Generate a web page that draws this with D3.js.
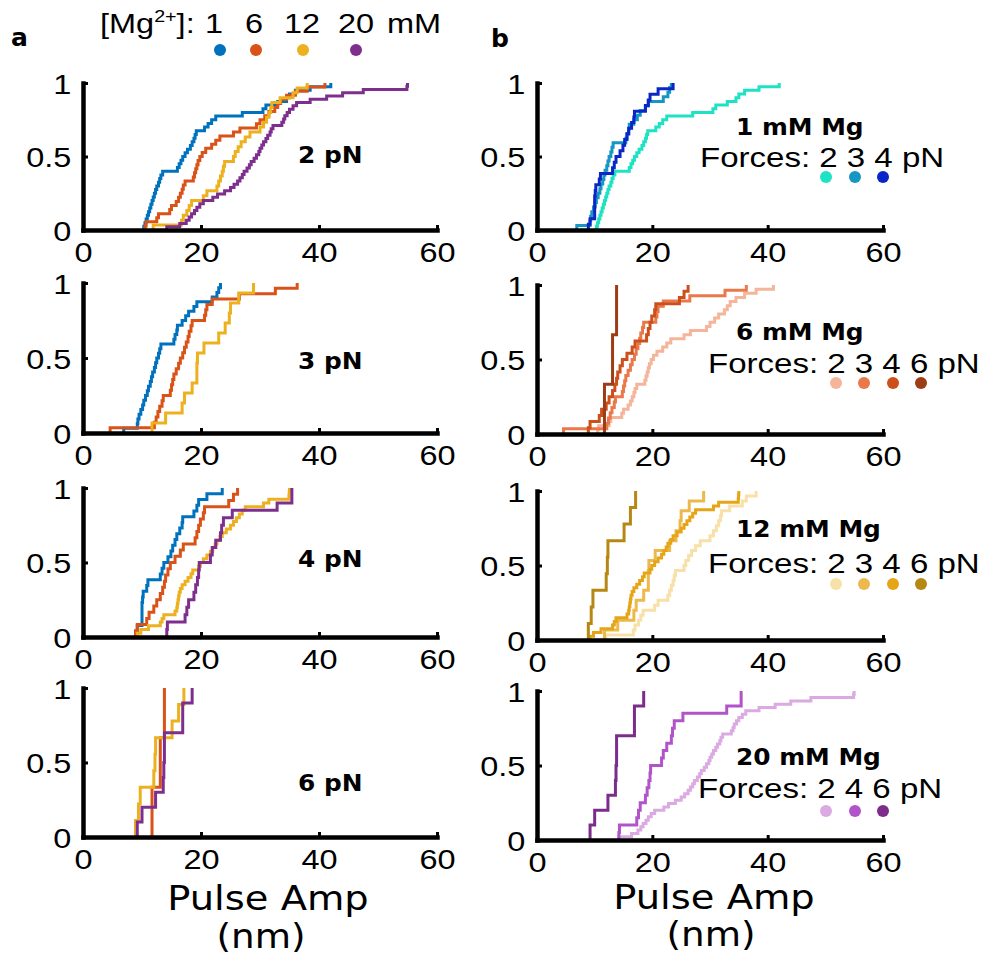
<!DOCTYPE html>
<html>
<head>
<meta charset="utf-8">
<script src="https://cdn.jsdelivr.net/npm/d3@7"></script>
<style>
  body { margin: 0; background: #fff; }
  svg { display: block; }
</style>
</head>
<body>
<div id="chart"></div>
<script>
// Pulse amplitudes (nm), one array per [Mg] / force
const mg1_f2 = [10.3, 10.5, 10.7, 10.9, 11.1, 11.3, 11.5, 11.7, 11.9, 12.1, 12.3, 12.5, 12.8, 13.0, 13.2, 13.5,
  16.0, 16.3, 16.6, 16.9, 17.3, 17.7, 18.2, 18.5, 18.8, 19.0, 19.2, 20.6, 21.2, 21.8, 22.5, 27.0, 30.5, 31.0,
  33.0, 34.5, 35.0, 36.0, 38.5, 42.0];
const mg1_f3 = [6.9, 9.2, 9.3, 9.5, 9.8, 10.1, 10.3, 10.6, 10.9, 11.1, 11.4, 11.6, 11.8, 12.1, 12.3, 12.5, 12.8,
  13.0, 13.2, 15.4, 15.6, 15.9, 16.0, 16.8, 17.4, 17.9, 18.8, 19.3, 21.9, 22.7, 23.0, 23.3];
const mg1_f4 = [8.9, 9.2, 10.0, 10.0, 10.0, 10.0, 10.1, 10.2, 10.8, 11.0, 13.1, 13.4, 13.7, 14.4, 14.9, 15.2,
  15.6, 15.9, 16.4, 16.8, 16.9, 18.8, 19.3, 19.6, 21.0, 23.6];

const mg6_f2 = [10.5, 10.7, 12.5, 12.8, 14.7, 15.0, 15.8, 16.2, 16.5, 16.8, 17.0, 17.3, 18.7, 18.9, 19.1, 19.3,
  19.5, 19.8, 20.2, 20.8, 21.8, 22.5, 23.2, 25.5, 26.6, 29.4, 30.0, 30.8, 31.5, 32.5, 33.0, 33.5, 34.5, 36.0,
  38.0, 41.0];
const mg6_f3 = [4.6, 12.1, 12.4, 12.7, 13.0, 13.4, 13.6, 14.8, 15.0, 15.2, 15.4, 15.8, 16.2, 16.5, 16.9, 17.2,
  17.5, 17.8, 18.0, 18.3, 18.5, 20.6, 20.8, 21.0, 21.9, 26.5, 32.6, 36.3];
const mg6_f4 = [8.9, 9.2, 10.8, 11.2, 12.0, 12.5, 13.1, 13.5, 13.8, 14.0, 14.4, 14.8, 15.6, 16.5, 17.0, 19.0,
  19.3, 19.6, 19.9, 20.4, 20.6, 24.7, 25.5, 26.2];
const mg6_f6 = [11.7, 13.1, 13.8];

const mg12_f2 = [11.9, 16.7, 17.0, 17.6, 18.0, 18.4, 20.4, 21.0, 22.7, 23.0, 23.3, 23.6, 23.8, 24.0, 25.5, 25.8,
  26.3, 26.8, 27.5, 28.3, 30.0, 30.6, 31.1, 31.5, 31.8, 32.0, 33.4, 35.6, 36.3, 38.0];
const mg12_f3 = [11.7, 14.0, 16.8, 17.2, 18.5, 19.3, 19.3, 19.4, 20.5, 23.0, 24.1, 24.8, 25.0, 26.4, 28.9];
const mg12_f4 = [9.2, 9.8, 11.1, 13.1, 13.4, 13.7, 15.6, 15.9, 16.0, 16.1, 16.2, 16.3, 16.5, 16.8, 17.3, 17.8,
  18.3, 18.6, 19.6, 19.9, 20.4, 21.0, 21.6, 22.0, 22.4, 22.7, 23.2, 23.6, 24.3, 25.0, 25.5, 26.0, 26.5, 27.0,
  27.5, 30.6, 31.5, 34.9, 34.95, 35.0];
const mg12_f6 = [8.9, 9.4, 9.7, 12.0, 12.2, 12.3, 15.1, 16.2, 17.1];

const mg20_f2 = [14.2, 16.4, 17.5, 18.0, 18.4, 18.9, 19.3, 19.8, 20.4, 22.0, 22.8, 24.0, 25.0, 25.6, 26.2, 26.6,
  27.0, 27.3, 27.8, 28.2, 28.5, 29.0, 29.4, 29.8, 30.0, 30.3, 30.6, 31.0, 31.3, 31.7, 31.9, 32.2, 33.7, 34.0,
  34.2, 34.6, 35.0, 35.6, 36.2, 38.5, 41.3, 44.0, 47.5, 54.9, 55.0];
const mg20_f4 = [14.2, 14.3, 17.3, 17.6, 17.9, 18.8, 19.1, 19.4, 19.6, 19.7, 21.6, 21.9, 22.5, 23.3, 23.5, 23.8,
  25.3, 32.9, 35.4, 35.4];
const mg20_f6 = [9.2, 10.0, 12.3, 13.6, 13.7, 13.8, 13.8, 16.9, 16.9, 18.5];

// labels / categories
const mgLevels = ["1", "6", "12", "20"];
const forceTitles = ["2 pN", "3 pN", "4 pN", "6 pN"];
const mgTitles = ["1 mM Mg", "6 mM Mg", "12 mM Mg", "20 mM Mg"];
const forceLegends = [["2", "3", "4"], ["2", "3", "4", "6"], ["2", "3", "4", "6"], ["2", "4", "6"]];
const xTicks = [0, 20, 40, 60];
const yTicks = [0, 0.5, 1];

// colours
const mgColors = ["#0072bd", "#d95319", "#edb120", "#7e2f8e"];
const blueShades = ["#1de2c3", "#1697c3", "#0b26c6"];
const orangeShades = ["#f4b59b", "#e9794a", "#cd501b", "#9c3d16"];
const yellowShades = ["#f7e1a8", "#edb94c", "#e6a517", "#b78714"];
const purpleShades = ["#dcaae2", "#b254c9", "#7c2d8c"];

// layout (rows are [top, bottom] in pixels)
const W = 985, H = 955;
const leftX = [83, 437], rightX = [537, 883];
const leftRows = [[83, 230], [283, 433], [488, 637], [688, 837]];
const rightRows = [[83, 230], [285, 434], [491, 640], [691, 840]];
const arial = "'Liberation Sans', Arial, Helvetica, sans-serif";
const dejavu = "'DejaVu Sans', Verdana, sans-serif";
const sx = 1.16; // the original text is drawn a bit wide

const svg = d3.select("#chart").append("svg")
  .attr("width", W)
  .attr("height", H);

// text helper, stretches glyphs horizontally around the anchor
function label(x, y, str, size, opts = {}) {
  return svg.append("text")
    .attr("transform", `translate(${x},${y}) scale(${opts.sx || sx},1)`)
    .attr("font-family", opts.family || arial)
    .attr("font-weight", opts.weight || "normal")
    .attr("font-size", size)
    .attr("text-anchor", opts.anchor || "start")
    .attr("fill", "#000")
    .text(str);
}

// empirical CDF as stairs
function ecdf(vals) {
  const v = vals.slice().sort((a, b) => a - b);
  const n = v.length;
  const pts = [[v[0], 0]];
  v.forEach((d, i) => {
    pts.push([d, i / n]);
    pts.push([d, (i + 1) / n]);
  });
  return pts;
}

function drawPanel(xr, row, seriesList, colors) {
  const x = d3.scaleLinear().domain([0, 60]).range(xr);
  const y = d3.scaleLinear().domain([0, 1]).range([row[1], row[0]]);
  const g = svg.append("g");

  const line = d3.line()
    .x(d => x(d[0]))
    .y(d => y(d[1]));

  seriesList.forEach((s, i) => {
    g.append("path")
      .datum(ecdf(s))
      .attr("fill", "none")
      .attr("stroke", colors[i])
      .attr("stroke-width", 3)
      .attr("d", line);
  });

  const xAxis = g.append("g")
    .attr("transform", `translate(0,${row[1]})`)
    .call(d3.axisBottom(x).tickValues(xTicks).tickSize(-5).tickSizeOuter(0).tickPadding(12));
  const yAxis = g.append("g")
    .attr("transform", `translate(${xr[0]},0)`)
    .call(d3.axisLeft(y).tickValues(yTicks).tickFormat(d => String(d)).tickSize(-5).tickSizeOuter(0).tickPadding(10));

  [xAxis, yAxis].forEach(a => {
    a.select(".domain").attr("stroke", "#000").attr("stroke-width", 4.5).attr("stroke-linecap", "square");
    a.selectAll(".tick line").attr("stroke", "#000").attr("stroke-width", 3);
    a.selectAll(".tick text")
      .attr("font-family", arial)
      .attr("font-size", 28)
      .attr("fill", "#000")
      .attr("transform", `scale(${sx},1)`);
  });
  yAxis.selectAll(".tick text").attr("dy", "0.36em");
}

// panel a (by force, coloured by [Mg])
const leftSeries = [
  [mg1_f2, mg6_f2, mg12_f2, mg20_f2],
  [mg1_f3, mg6_f3, mg12_f3],
  [mg1_f4, mg6_f4, mg12_f4, mg20_f4],
  [mg6_f6, mg12_f6, mg20_f6]
];
const leftColors = [mgColors, mgColors.slice(0, 3), mgColors, mgColors.slice(1)];
const forceBaselines = [163, 369, 567, 791];
leftRows.forEach((r, i) => {
  drawPanel(leftX, r, leftSeries[i], leftColors[i]);
  label(298, forceBaselines[i], forceTitles[i], 23, {family: dejavu, weight: "bold", sx: 1.08});
});

// panel b (by [Mg], shaded by force)
const rightSeries = [
  [mg1_f2, mg1_f3, mg1_f4],
  [mg6_f2, mg6_f3, mg6_f4, mg6_f6],
  [mg12_f2, mg12_f3, mg12_f4, mg12_f6],
  [mg20_f2, mg20_f4, mg20_f6]
];
const rightColors = [blueShades, orangeShades, yellowShades, purpleShades];
const titleBaselines = [135, 340, 537, 765];
const forcesBaselines = [167, 373, 573, 798];
const forcesStart = [700, 708, 708, 698];
const dotY = [177, 383, 584, 811];
const dotX3 = [826, 855, 883];
const dotX4 = [836, 864, 893, 921];
rightRows.forEach((r, i) => {
  drawPanel(rightX, r, rightSeries[i], rightColors[i]);
  label(736, titleBaselines[i], mgTitles[i], 23, {family: dejavu, weight: "bold", sx: 1.08});
  label(forcesStart[i], forcesBaselines[i], "Forces: " + forceLegends[i].join(" ") + " pN", 28, {sx: 1.18});
  const dx = forceLegends[i].length === 3 ? dotX3 : dotX4;
  svg.append("g").selectAll("circle")
    .data(rightColors[i])
    .join("circle")
      .attr("cx", (d, j) => dx[j])
      .attr("cy", dotY[i])
      .attr("r", 6)
      .attr("fill", d => d);
});

// [Mg2+] legend on top
const head = svg.append("text")
  .attr("transform", `translate(100,33) scale(${sx},1)`)
  .attr("font-family", arial)
  .attr("font-size", 28);
head.append("tspan").text("[Mg");
head.append("tspan").attr("font-size", 17).attr("dy", -11).text("2+");
head.append("tspan").attr("dy", 11).text("]:");
const mgNumX = [214, 254, 302, 356];
mgLevels.forEach((m, i) => label(mgNumX[i], 33, m, 28, {anchor: "middle"}));
label(387, 33, "mM", 28);
const mgDotX = [220, 256, 303, 356];
svg.append("g").selectAll("circle")
  .data(mgColors)
  .join("circle")
    .attr("cx", (d, i) => mgDotX[i])
    .attr("cy", 50)
    .attr("r", 6)
    .attr("fill", d => d);

// panel letters
label(11, 46, "a", 25, {family: dejavu, weight: "bold", sx: 1});
label(491, 47, "b", 25, {family: dejavu, weight: "bold", sx: 1});

// x labels
label(268, 910, "Pulse Amp", 34, {family: dejavu, anchor: "middle", sx: 1.13});
label(261, 948, "(nm)", 33, {family: dejavu, anchor: "middle", sx: 1.13});
label(714, 909, "Pulse Amp", 34, {family: dejavu, anchor: "middle", sx: 1.13});
label(711, 946, "(nm)", 33, {family: dejavu, anchor: "middle", sx: 1.13});
</script>
</body>
</html>
